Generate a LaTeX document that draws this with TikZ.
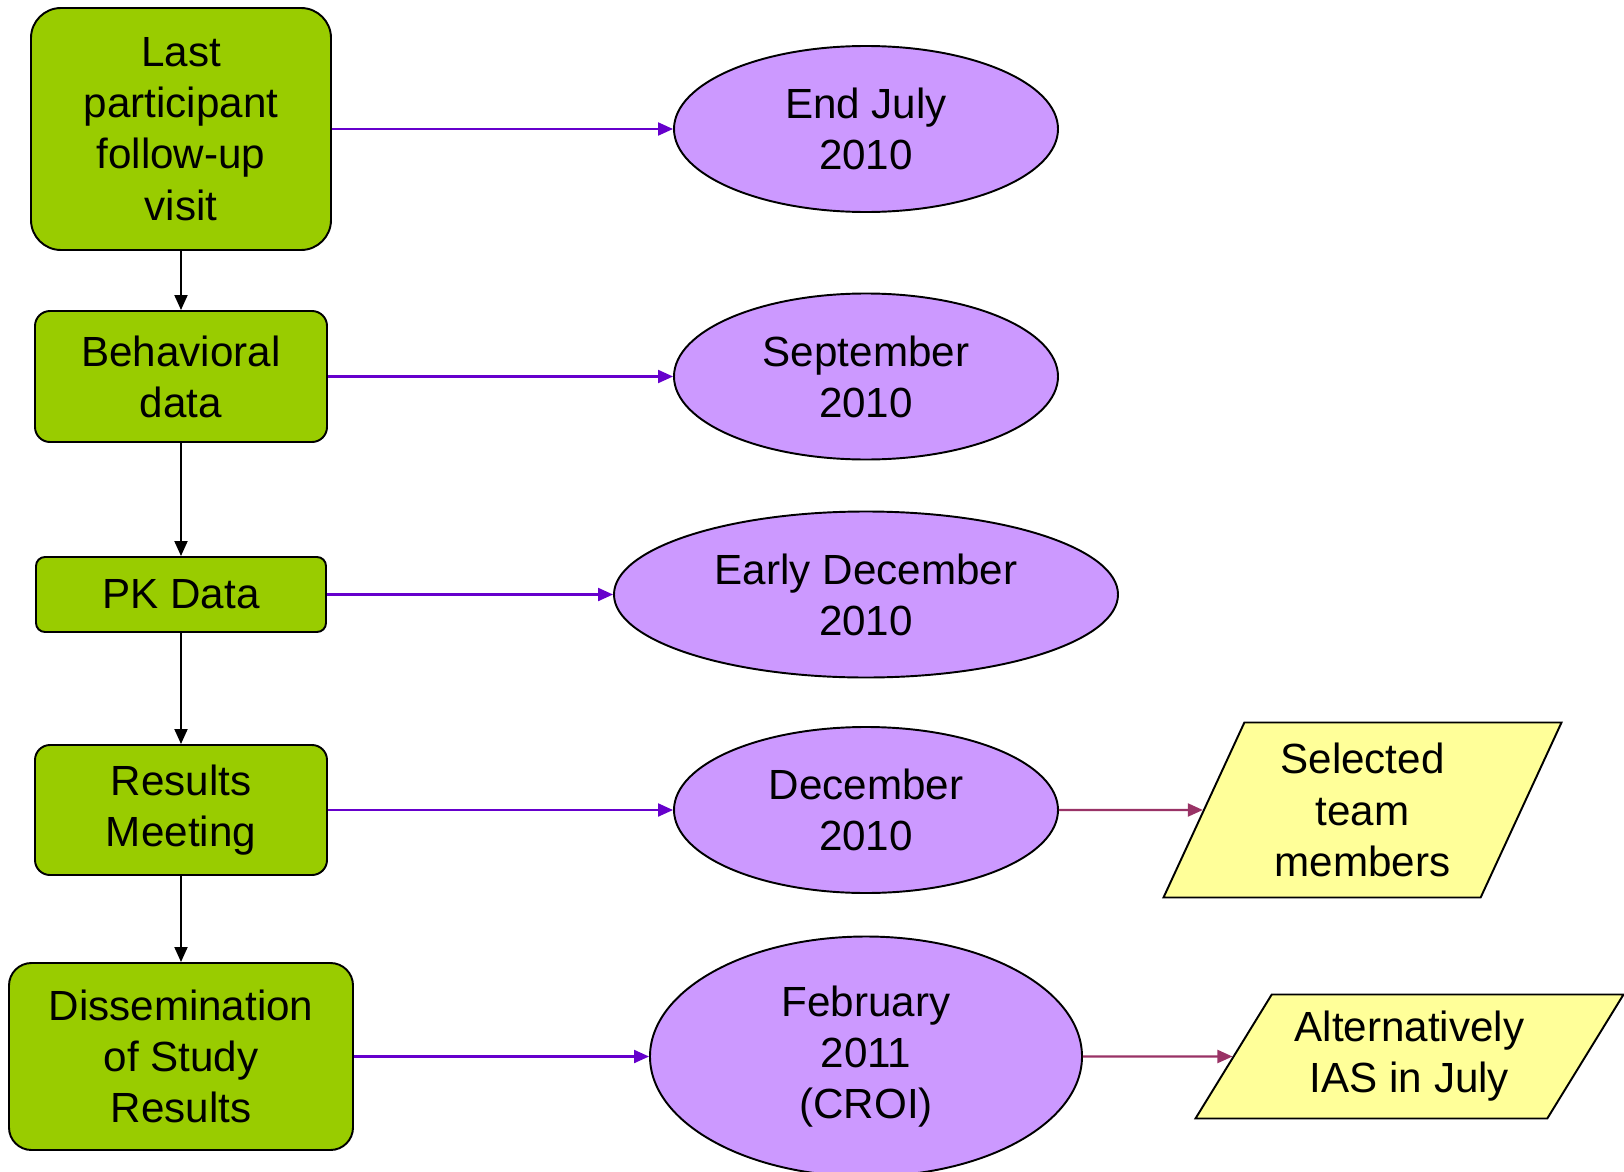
\documentclass[tikz,border=0pt]{standalone}
\usepackage{fontspec}
\setmainfont{Liberation Sans}
\usepackage{xcolor}
\usetikzlibrary{positioning, arrows.meta, shapes.geometric}

\definecolor{stepgreen}{HTML}{99CC00}
\definecolor{datelilac}{HTML}{CC99FF}
\definecolor{noteyellow}{HTML}{FFFF99}
\definecolor{linkviolet}{HTML}{6600CC}
\definecolor{linkplum}{HTML}{993366}

\begin{document}
\begin{tikzpicture}[x=0.2mm, y=-0.2mm, font=\fontsize{24pt}{29.1pt}\selectfont]

% --- Styles ---
\tikzset{
    stepbox/.style={rectangle, draw=black, fill=stepgreen, line width=1.1pt, align=center, inner sep=0pt},
    datebox/.style={ellipse, draw=black, fill=datelilac, line width=1.1pt, align=center, inner sep=0pt, minimum width=7.68cm, minimum height=3.32cm},
    notebox/.style={trapezium, draw=black, fill=noteyellow, line width=1.1pt, align=center, inner sep=0pt, trapezium stretches=true},
    flow/.style={-{Triangle[length=0.3cm, width=0.26cm]}, line width=1.1pt, black},
    datelink/.style={-{Triangle[length=0.3cm, width=0.26cm]}, line width=1.2pt, linkviolet},
    notelink/.style={-{Triangle[length=0.3cm, width=0.26cm]}, line width=1.2pt, linkplum},
}

\useasboundingbox (0,0) rectangle (1624,1172);

% --- Left column: study steps ---
\node[stepbox, minimum width=6cm, minimum height=4.84cm, rounded corners=0.6cm] (visit) at (181,129) {Last\\participant\\follow-up\\visit};
\node[stepbox, minimum width=5.84cm, minimum height=2.62cm, rounded corners=0.3cm] (behav) at (181,376.5) {Behavioral\\data};
\node[stepbox, minimum width=5.8cm, minimum height=1.5cm, rounded corners=0.18cm] (pk) at (181,594.5) {PK Data};
\node[stepbox, minimum width=5.84cm, minimum height=2.6cm, rounded corners=0.3cm] (meet) at (181,810) {Results\\Meeting};
\node[stepbox, minimum width=6.88cm, minimum height=3.74cm, rounded corners=0.45cm] (dissem) at (181,1056.5) {Dissemination\\of Study\\Results};

% --- Middle column: dates ---
\node[datebox] (julyend) at (866,129) {End July\\2010};
\node[datebox] (sept) at (866,376.5) {September\\2010};
\node[datebox, minimum width=10.08cm] (earlydec) at (866,594.5) {Early December\\2010};
\node[datebox] (dec) at (866,810) {December\\2010};
\node[datebox, minimum width=8.64cm, minimum height=4.8cm] (feb) at (866,1056.5) {February\\2011\\(CROI)};

% --- Right column: audiences ---
\node[notebox, trapezium left angle=65.7, trapezium right angle=114.3, minimum width=7.98cm, minimum height=3.5cm] (team) at (1362.5,810) {Selected\\team\\members};
\node[notebox, trapezium left angle=54.9, trapezium right angle=125.1, minimum width=8.58cm, minimum height=2.48cm] (ias) at (1409.5,1056.5) {Alternatively\\IAS in July};

% --- Arrows ---
\draw[flow] (visit) -- (behav);
\draw[flow] (behav) -- (pk);
\draw[flow] (pk) -- (meet);
\draw[flow] (meet) -- (dissem);

\draw[datelink] (visit) -- (julyend);
\draw[datelink] (behav) -- (sept);
\draw[datelink] (pk) -- (earlydec);
\draw[datelink] (meet) -- (dec);
\draw[datelink] (dissem) -- (feb);

\draw[notelink] (dec) -- (team);
\draw[notelink] (feb) -- (ias);

\end{tikzpicture}
\end{document}
